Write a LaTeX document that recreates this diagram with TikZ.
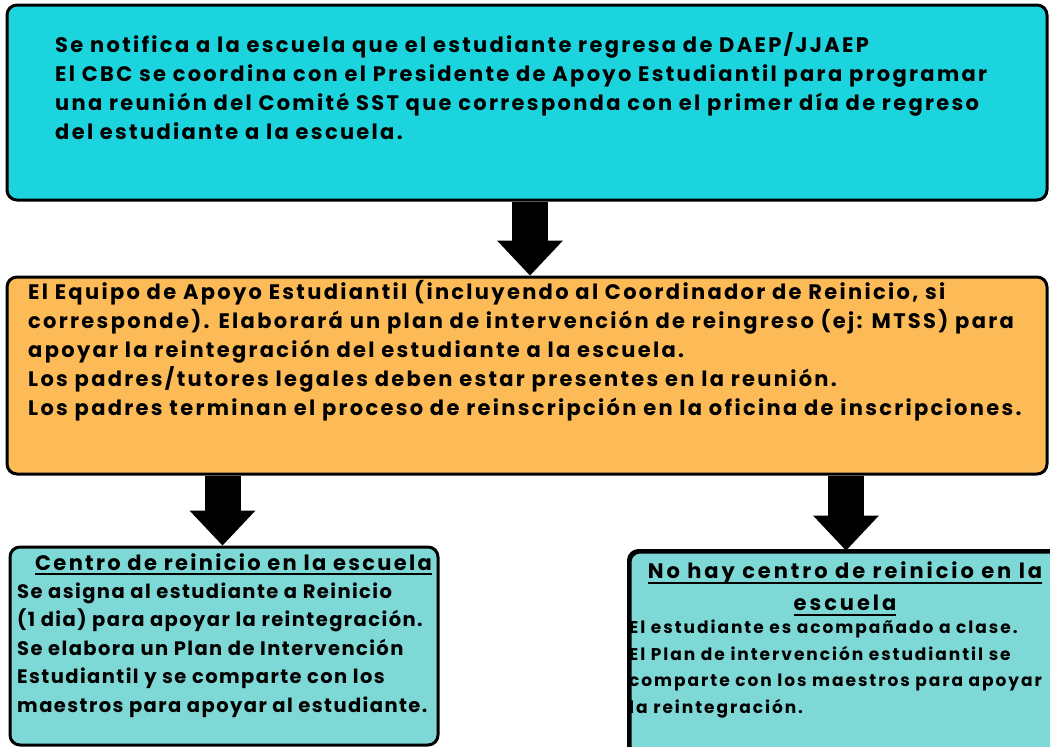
\documentclass[tikz,border=0pt]{standalone}
\usepackage{fontspec}
\setmainfont{Poppins}
\usetikzlibrary{arrows.meta}
\definecolor{cyanbox}{HTML}{1CD4DE}
\definecolor{orangebox}{HTML}{FDBB58}
\definecolor{tealbox}{HTML}{7DD8D6}
\newcommand{\fsA}{\bfseries\fontsize{21}{29}\selectfont\addfontfeatures{LetterSpace=11}}
\newcommand{\fsH}{\bfseries\fontsize{21}{32}\selectfont\addfontfeatures{LetterSpace=14}}
\newcommand{\fsB}{\bfseries\fontsize{19.5}{28.5}\selectfont\addfontfeatures{LetterSpace=7.3}}
\newcommand{\fsC}{\bfseries\fontsize{17}{26.5}\selectfont\addfontfeatures{LetterSpace=11.5}}
\newlength{\myulw}
\newcommand{\myul}[1]{\settowidth{\myulw}{#1}\rlap{\rule[-5pt]{\myulw}{1.6pt}}#1}
\begin{document}
\begin{tikzpicture}[x=1pt,y=-1pt,
  box/.style={draw=black,line width=3pt,rounded corners=10pt,inner sep=0pt},
  txt/.style={anchor=north west,align=left,inner sep=0pt},
  blockarrow/.style={line width=36pt,-{Triangle[width=66pt,length=35pt,line width=0pt]}}]
\useasboundingbox (0,0) rectangle (1050,747);
\fill[white] (0,0) rectangle (1050,747);
% boxes
\node[box,fill=cyanbox,minimum width=1040pt,minimum height=195pt] (top) at (527,102.5) {};
\node[box,fill=orangebox,minimum width=1040pt,minimum height=197pt] (mid) at (527,375.5) {};
\node[box,fill=tealbox,minimum width=428pt,minimum height=198pt] (left) at (224,646) {};
\node[box,fill=tealbox,minimum width=432pt,minimum height=210pt] (right) at (846,657) {};
% arrows
\draw[blockarrow] ([xshift=3pt]top.south) -- ([xshift=3pt]mid.north);
\draw[blockarrow] ([xshift=-1.5pt]mid.south -| left.north) -- ([xshift=-1.5pt]left.north);
\draw[blockarrow] (mid.south -| right.north) -- (right.north);
% texts
\node[txt,font=\fsA] (toptext) at (55,32.3) {\strut Se notifica a la escuela que el estudiante regresa de DAEP/JJAEP\\
El CBC se coordina con el Presidente de Apoyo Estudiantil para programar\\
una reunión del Comité SST que corresponda con el primer día de regreso\\
del estudiante a la escuela.};
\node[txt,font=\fsA] (midtext) at (28,279.3) {\strut El Equipo de Apoyo Estudiantil (incluyendo al Coordinador de Reinicio, si\\
corresponde). Elaborará un plan de intervención de reingreso (ej: MTSS) para\\
apoyar la reintegración del estudiante a la escuela.\\
Los padres/tutores legales deben estar presentes en la reunión.\\
Los padres terminan el proceso de reinscripción en la oficina de inscripciones.};
\node[txt,font=\fsA,anchor=base west] (lefthead) at (35,570) {\myul{Centro de reinicio en la escuela}};
\node[txt,font=\fsB] (lefttext) at (17,578) {\strut Se asigna al estudiante a Reinicio\\
(1 dia) para apoyar la reintegración.\\
Se elabora un Plan de Intervención\\
Estudiantil y se comparte con los\\
maestros para apoyar al estudiante.};
\node[txt,font=\fsH,anchor=north,align=center] (righthead) at (845,556) {\strut\myul{No hay centro de reinicio en la}\\\myul{escuela}};
\node[txt,font=\fsC] (righttext) at (629,615) {\strut El estudiante es acompañado a clase.\\
El Plan de intervención estudiantil se\\
comparte con los maestros para apoyar\\
la reintegración.};
% border of the right box drawn again over its text, as in the reference
\draw[line width=3pt,rounded corners=10pt] (right.south west) rectangle (right.north east);
\end{tikzpicture}
\end{document}
